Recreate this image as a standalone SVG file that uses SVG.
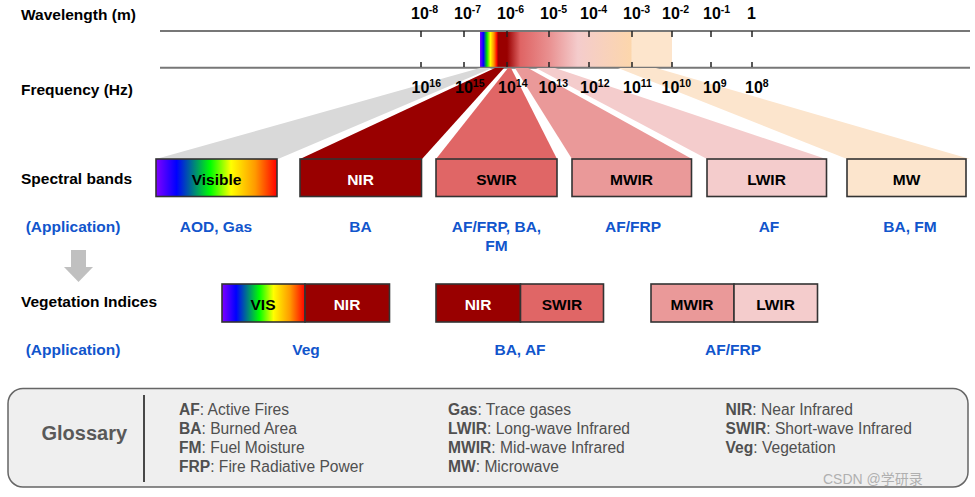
<svg xmlns="http://www.w3.org/2000/svg" width="975" height="497" viewBox="0 0 975 497">
<defs>
<style>
text{font-family:"Liberation Sans",Arial,sans-serif;}
.lbl{font-size:15.5px;font-weight:bold;fill:#000;}
.app{font-size:15.5px;font-weight:bold;fill:#1155cc;text-anchor:middle;}
.band{font-size:15.5px;font-weight:bold;text-anchor:middle;}
.num{font-size:16px;font-weight:bold;fill:#000;}
.sup{font-size:10.5px;}
.box{stroke:#333;stroke-width:1.6;}
.tick{stroke:#222;stroke-width:1.5;}
.axis{stroke:#777;stroke-width:2;}
.gl{font-size:15.6px;fill:#505050;}
.gl tspan.b{font-weight:bold;}
</style>
<linearGradient id="spec" gradientUnits="userSpaceOnUse" x1="480" y1="0" x2="672" y2="0">
<stop offset="0" stop-color="#7f00ff"/>
<stop offset="0.018" stop-color="#0000ff"/>
<stop offset="0.036" stop-color="#00e000"/>
<stop offset="0.054" stop-color="#ffff00"/>
<stop offset="0.073" stop-color="#ff8c00"/>
<stop offset="0.088" stop-color="#ff0000"/>
<stop offset="0.094" stop-color="#990000"/>
<stop offset="0.141" stop-color="#990000"/>
<stop offset="0.21" stop-color="#df6464"/>
<stop offset="0.36" stop-color="#e99090"/>
<stop offset="0.51" stop-color="#f4cccc"/>
<stop offset="0.786" stop-color="#fcd6ac"/>
<stop offset="0.792" stop-color="#fde5cc"/>
<stop offset="1" stop-color="#fde5cc"/>
</linearGradient>
<linearGradient id="vis" x1="0" y1="0" x2="1" y2="0">
<stop offset="0" stop-color="#8000ff"/>
<stop offset="0.17" stop-color="#0000ff"/>
<stop offset="0.45" stop-color="#00ff00"/>
<stop offset="0.62" stop-color="#ffff00"/>
<stop offset="0.82" stop-color="#ff9900"/>
<stop offset="1" stop-color="#ff0000"/>
</linearGradient>
</defs>
<rect width="975" height="497" fill="#fff"/>

<!-- axis -->
<g id="axis">
<rect x="480" y="31" width="192" height="36.5" fill="url(#spec)"/>
<line class="axis" x1="160" y1="31" x2="970" y2="31"/>
<line class="axis" x1="160" y1="67.7" x2="970" y2="67.7"/>
<g class="tick">
<line x1="421" y1="31" x2="421" y2="37"/><line x1="421" y1="62" x2="421" y2="67"/>
<line x1="464" y1="31" x2="464" y2="37"/><line x1="464" y1="62" x2="464" y2="67"/>
<line x1="507" y1="31" x2="507" y2="37"/><line x1="507" y1="62" x2="507" y2="67"/>
<line x1="549" y1="31" x2="549" y2="37"/><line x1="549" y1="62" x2="549" y2="67"/>
<line x1="589" y1="31" x2="589" y2="37"/><line x1="589" y1="62" x2="589" y2="67"/>
<line x1="632" y1="31" x2="632" y2="37"/><line x1="632" y1="62" x2="632" y2="67"/>
<line x1="672" y1="31" x2="672" y2="37"/><line x1="672" y1="62" x2="672" y2="67"/>
<line x1="711" y1="31" x2="711" y2="37"/><line x1="711" y1="62" x2="711" y2="67"/>
<line x1="752" y1="31" x2="752" y2="37"/><line x1="752" y1="62" x2="752" y2="67"/>
</g>
<g class="num">
<text x="411" y="19">10<tspan class="sup" dy="-6">-8</tspan></text>
<text x="454" y="19">10<tspan class="sup" dy="-6">-7</tspan></text>
<text x="497" y="19">10<tspan class="sup" dy="-6">-6</tspan></text>
<text x="540" y="19">10<tspan class="sup" dy="-6">-5</tspan></text>
<text x="580" y="19">10<tspan class="sup" dy="-6">-4</tspan></text>
<text x="623" y="19">10<tspan class="sup" dy="-6">-3</tspan></text>
<text x="662" y="19">10<tspan class="sup" dy="-6">-2</tspan></text>
<text x="703" y="19">10<tspan class="sup" dy="-6">-1</tspan></text>
<text x="747" y="19">1</text>
</g>
</g>

<!-- fans -->
<g id="connectors">
<polygon points="480,68 492,68 278,159 156,159" fill="#d9d9d9"/>
<polygon points="495,68 504,68 422,159 300,159" fill="#990000"/>
<polygon points="508,68 511,68 557,159 436,159" fill="#e06666"/>
<polygon points="515,68 528,68 692,159 572,159" fill="#ea9999"/>
<polygon points="536,68 555,68 826,159 707,159" fill="#f4cccc"/>
<polygon points="618,68 656,68 970,159 847,159" fill="#fce5cd"/>
<g id="down-arrow" fill="#c0c0c0">
<rect x="71" y="250" width="15" height="17"/>
<polygon points="64,267 93,267 78.5,282"/>
</g>
</g>

<g id="freq-labels" class="num">
<text x="411.5" y="93">10<tspan class="sup" dy="-6">16</tspan></text>
<text x="455" y="93">10<tspan class="sup" dy="-6">15</tspan></text>
<text x="498" y="93">10<tspan class="sup" dy="-6">14</tspan></text>
<text x="538.5" y="93">10<tspan class="sup" dy="-6">13</tspan></text>
<text x="580" y="93">10<tspan class="sup" dy="-6">12</tspan></text>
<text x="623" y="93">10<tspan class="sup" dy="-6">11</tspan></text>
<text x="661.5" y="93">10<tspan class="sup" dy="-6">10</tspan></text>
<text x="703" y="93">10<tspan class="sup" dy="-6">9</tspan></text>
<text x="745" y="93">10<tspan class="sup" dy="-6">8</tspan></text>
</g>

<!-- row labels -->
<g id="row-labels">
<text class="lbl" x="21" y="19.5">Wavelength (m)</text>
<text class="lbl" x="21" y="95">Frequency (Hz)</text>
<text class="lbl" x="21" y="183.5">Spectral bands</text>
<text class="app" x="73" y="232">(Application)</text>
<text class="lbl" x="21" y="307">Vegetation Indices</text>
<text class="app" x="73" y="354.5">(Application)</text>
</g>

<!-- spectral bands -->
<g id="band-visible"><rect class="box" x="156" y="159" width="121" height="37.5" fill="url(#vis)"/><text class="band" x="216.5" y="185" fill="#000">Visible</text></g>
<g id="band-nir"><rect class="box" x="300" y="159" width="121.5" height="37.5" fill="#990000"/><text class="band" x="360.5" y="185" fill="#fff">NIR</text></g>
<g id="band-swir"><rect class="box" x="436" y="159" width="121" height="37.5" fill="#e06666"/><text class="band" x="496.5" y="185" fill="#000">SWIR</text></g>
<g id="band-mwir"><rect class="box" x="572" y="159" width="119.5" height="37.5" fill="#ea9999"/><text class="band" x="631.5" y="185" fill="#000">MWIR</text></g>
<g id="band-lwir"><rect class="box" x="707" y="159" width="119.5" height="37.5" fill="#f4cccc"/><text class="band" x="766.5" y="185" fill="#000">LWIR</text></g>
<g id="band-mw"><rect class="box" x="847" y="159" width="119" height="37.5" fill="#fce5cd"/><text class="band" x="906.5" y="185" fill="#000">MW</text></g>

<g id="band-apps">
<text class="app" x="216" y="232">AOD, Gas</text>
<text class="app" x="360.5" y="232">BA</text>
<text class="app" x="496.5" y="232">AF/FRP, BA,</text>
<text class="app" x="496.5" y="251">FM</text>
<text class="app" x="633" y="232">AF/FRP</text>
<text class="app" x="769" y="232">AF</text>
<text class="app" x="910" y="232">BA, FM</text>
</g>

<!-- vegetation indices -->
<g id="vi-vis-nir">
<rect class="box" x="222" y="284" width="83" height="38" fill="url(#vis)"/>
<rect class="box" x="305" y="284" width="84.5" height="38" fill="#990000"/>
<text class="band" x="263" y="310" fill="#000">VIS</text>
<text class="band" x="347" y="310" fill="#fff">NIR</text>
</g>
<g id="vi-nir-swir">
<rect class="box" x="436" y="284" width="84.5" height="38" fill="#990000"/>
<rect class="box" x="520.5" y="284" width="83" height="38" fill="#e06666"/>
<text class="band" x="478" y="310" fill="#fff">NIR</text>
<text class="band" x="562" y="310" fill="#000">SWIR</text>
</g>
<g id="vi-mwir-lwir">
<rect class="box" x="651" y="284" width="83" height="38" fill="#ea9999"/>
<rect class="box" x="734" y="284" width="83.5" height="38" fill="#f4cccc"/>
<text class="band" x="692" y="310" fill="#000">MWIR</text>
<text class="band" x="775.5" y="310" fill="#000">LWIR</text>
</g>
<g id="vi-apps">
<text class="app" x="306" y="354.5">Veg</text>
<text class="app" x="520" y="354.5">BA, AF</text>
<text class="app" x="733" y="354.5">AF/FRP</text>
</g>

<!-- glossary -->
<g id="glossary">
<rect x="8" y="388.5" width="960" height="98.5" rx="15" ry="15" fill="#efefef" stroke="#666" stroke-width="1.5"/>
<line x1="144" y1="395" x2="144" y2="482" stroke="#111" stroke-width="1.5"/>
<text x="41.5" y="439.5" font-size="20" font-weight="bold" fill="#595959">Glossary</text>
<text class="gl" x="179" y="415"><tspan class="b">AF</tspan>: Active Fires</text>
<text class="gl" x="179" y="434"><tspan class="b">BA</tspan>: Burned Area</text>
<text class="gl" x="179" y="453"><tspan class="b">FM</tspan>: Fuel Moisture</text>
<text class="gl" x="179" y="472"><tspan class="b">FRP</tspan>: Fire Radiative Power</text>
<text class="gl" x="448" y="415"><tspan class="b">Gas</tspan>: Trace gases</text>
<text class="gl" x="448" y="434"><tspan class="b">LWIR</tspan>: Long-wave Infrared</text>
<text class="gl" x="448" y="453"><tspan class="b">MWIR</tspan>: Mid-wave Infrared</text>
<text class="gl" x="448" y="472"><tspan class="b">MW</tspan>: Microwave</text>
<text class="gl" x="725.5" y="415"><tspan class="b">NIR</tspan>: Near Infrared</text>
<text class="gl" x="725.5" y="434"><tspan class="b">SWIR</tspan>: Short-wave Infrared</text>
<text class="gl" x="725.5" y="453"><tspan class="b">Veg</tspan>: Vegetation</text>
<text x="823" y="484" font-size="14" fill="#b0b0b0" style="font-family:'Liberation Sans','Noto Sans CJK SC',sans-serif">CSDN @学研录</text>
</g>
</svg>
